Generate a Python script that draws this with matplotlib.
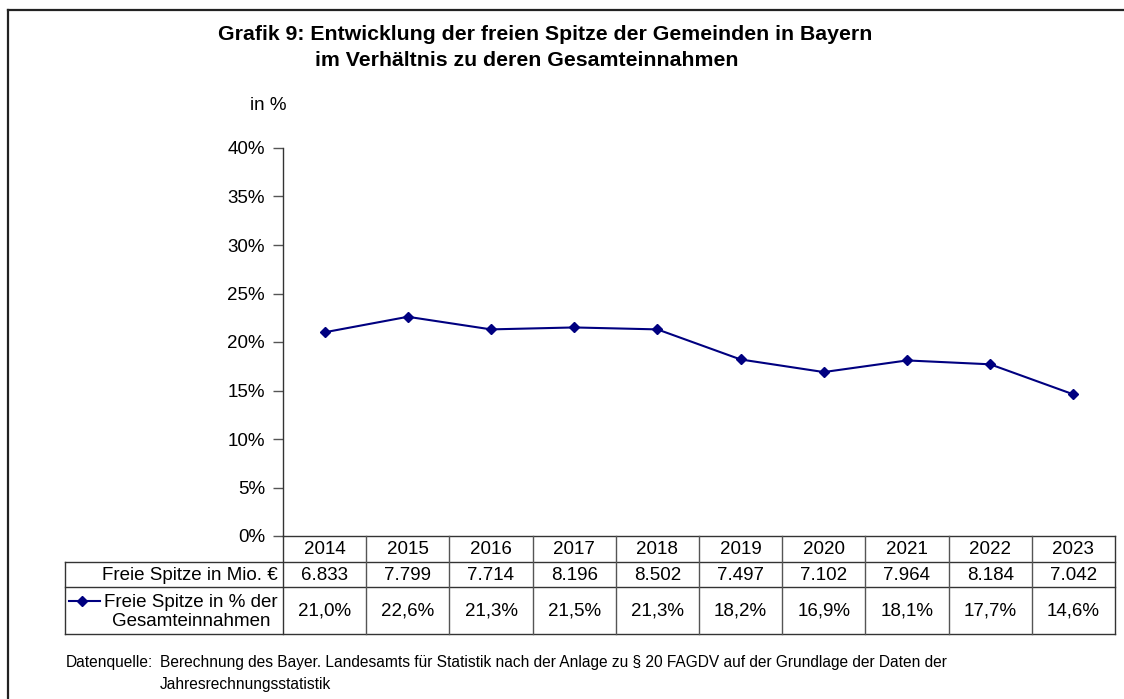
import matplotlib
matplotlib.use("Agg")
import matplotlib.pyplot as plt
from matplotlib.lines import Line2D
from matplotlib.ticker import FuncFormatter

plt.rcParams['font.family'] = ['Liberation Sans', 'DejaVu Sans']

years = ["2014", "2015", "2016", "2017", "2018", "2019", "2020", "2021", "2022", "2023"]
mio_eur = ["6.833", "7.799", "7.714", "8.196", "8.502", "7.497", "7.102", "7.964", "8.184", "7.042"]
pct_values = [21.0, 22.6, 21.3, 21.5, 21.3, 18.2, 16.9, 18.1, 17.7, 14.6]
pct_labels = ["21,0%", "22,6%", "21,3%", "21,5%", "21,3%", "18,2%", "16,9%", "18,1%", "17,7%", "14,6%"]
yticks = [0, 5, 10, 15, 20, 25, 30, 35, 40]

title1 = "Grafik 9: Entwicklung der freien Spitze der Gemeinden in Bayern"
title2 = "im Verhältnis zu deren Gesamteinnahmen"
row1_label = "Freie Spitze in Mio. €"
row2_label = "Freie Spitze in % der\nGesamteinnahmen"
source_head = "Datenquelle:"
source1 = "Berechnung des Bayer. Landesamts für Statistik nach der Anlage zu § 20 FAGDV auf der Grundlage der Daten der"
source2 = "Jahresrechnungsstatistik"

W, H = 1124, 699
fig = plt.figure(figsize=(W / 100, H / 100), dpi=100)
fig.patch.set_facecolor("white")

def fx(px):
    return px / W

def fy(py):
    return 1 - py / H

navy = "#000080"
FS = 13.5
FN = 11.2

# frame border (top and left)
fig.add_artist(Line2D([fx(8), fx(1124)], [fy(9.5), fy(9.5)], color="#222222", lw=1.6))
fig.add_artist(Line2D([fx(8), fx(8)], [fy(9.5), fy(699)], color="#222222", lw=1.6))

# main axes
ax_l, ax_r, ax_t, ax_b = 283, 1115, 148, 536
ax = fig.add_axes([fx(ax_l), fy(ax_b), fx(ax_r - ax_l), (ax_b - ax_t) / H])
n = len(years)
xs = [i + 0.5 for i in range(n)]
ax.plot(xs, pct_values, color=navy, lw=1.5, marker="D", ms=5.5, mfc=navy, mec=navy)
ax.set_xlim(0, n)
ax.set_ylim(0, 40)
ax.set_yticks(yticks)
ax.yaxis.set_major_formatter(FuncFormatter(lambda v, p: f"{int(v)}%"))
ax.set_xticks([])
for s in ["top", "right", "bottom"]:
    ax.spines[s].set_visible(False)
ax.spines["left"].set_color("#333333")
ax.spines["left"].set_linewidth(1.0)
ax.tick_params(axis="y", direction="out", length=7, width=1, color="#555555",
               labelsize=FS, pad=6)

fig.text(fx(287), fy(105), "in %", ha="right", va="center", fontsize=FS)

# titles
fig.text(fx(545), fy(35), title1, ha="center", va="center", fontsize=15.3, fontweight="bold")
fig.text(fx(527), fy(60), title2, ha="center", va="center", fontsize=15.3, fontweight="bold")

# table
tb_l, tb_r = 65, 1115
r0, r1, r2, r3 = 536, 562, 587, 634
tax = fig.add_axes([fx(tb_l), fy(r3), fx(tb_r - tb_l), (r3 - r0) / H])
tax.set_xlim(tb_l, tb_r)
tax.set_ylim(r3, r0)
tax.axis("off")
col_w = (tb_r - ax_l) / n
lc = "#333333"
lw = 1.0
tax.plot([ax_l, tb_r], [r0, r0], color=lc, lw=lw, clip_on=False)
for yy in (r1, r2, r3):
    tax.plot([tb_l, tb_r], [yy, yy], color=lc, lw=lw, clip_on=False)
tax.plot([tb_l, tb_l], [r1, r3], color=lc, lw=lw, clip_on=False)
for i in range(n + 1):
    xx = ax_l + i * col_w
    tax.plot([xx, xx], [r0, r3], color=lc if i in (0, n) else "#555555", lw=lw, clip_on=False)

for i in range(n):
    cx = ax_l + (i + 0.5) * col_w
    tax.text(cx, (r0 + r1) / 2 + 1, years[i], ha="center", va="center", fontsize=FS)
    tax.text(cx, (r1 + r2) / 2 + 1, mio_eur[i], ha="center", va="center", fontsize=FS)
    tax.text(cx, (r2 + r3) / 2 + 1, pct_labels[i], ha="center", va="center", fontsize=FS)

tax.text(ax_l - 5, (r1 + r2) / 2 + 1, row1_label, ha="right", va="center", fontsize=FS)
tax.text(ax_l - 5, (r2 + r3) / 2 + 1.5, row2_label, ha="right", va="center", fontsize=FS,
         multialignment="center", linespacing=1.15)
# legend key in row label
tax.plot([69, 100], [601, 601], color=navy, lw=1.5)
tax.plot([82], [601], marker="D", ms=5.5, color=navy)

fig.text(fx(66), fy(663), source_head, ha="left", va="center", fontsize=FN)
fig.text(fx(160), fy(663), source1, ha="left", va="center", fontsize=FN)
fig.text(fx(160), fy(684), source2, ha="left", va="center", fontsize=FN)

fig.savefig("out.png", dpi=100, facecolor="white")
